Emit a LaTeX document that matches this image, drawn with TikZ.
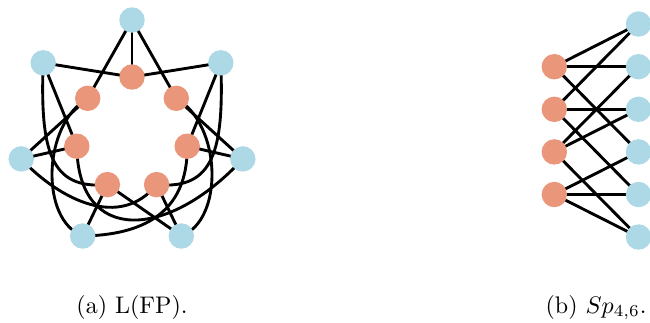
\documentclass[tikz,border=0pt]{standalone}
\usetikzlibrary{backgrounds}
\definecolor{lblue}{RGB}{173,216,230}
\definecolor{lsalmon}{RGB}{233,150,122}
\begin{document}
\begin{tikzpicture}[x=0.4167pt,y=-0.4167pt,
  bnode/.style={circle,fill=lblue,minimum size=10.6pt,inner sep=0pt},
  onode/.style={circle,fill=lsalmon,minimum size=10.6pt,inner sep=0pt},
  edge/.style={line width=1.2pt,black},
  captext/.style={anchor=base,inner sep=0pt}]
\useasboundingbox (0,0) rectangle (650,322);
% ---- (a) left graph
\node[bnode] (B1) at (132,20) {};
\node[bnode] (B2) at (43.2,62.8) {};
\node[bnode] (B3) at (220.8,62.8) {};
\node[bnode] (B4) at (21.2,158.9) {};
\node[bnode] (B5) at (242.8,158.9) {};
\node[bnode] (B6) at (82.7,236) {};
\node[bnode] (B7) at (181.3,236) {};
\node[onode] (O1) at (132,77) {};
\node[onode] (O2) at (87.7,98.3) {};
\node[onode] (O3) at (176.3,98.3) {};
\node[onode] (O4) at (76.8,146.2) {};
\node[onode] (O5) at (187.2,146.2) {};
\node[onode] (O6) at (107.4,184.6) {};
\node[onode] (O7) at (156.6,184.6) {};
% ---- (b) right graph
\node[onode] (R1) at (554.3,66.7) {};
\node[onode] (R2) at (554.3,109.3) {};
\node[onode] (R3) at (554.3,151.9) {};
\node[onode] (R4) at (554.3,194.5) {};
\node[bnode] (S1) at (638.5,24) {};
\node[bnode] (S2) at (638.5,66.7) {};
\node[bnode] (S3) at (638.5,109.3) {};
\node[bnode] (S4) at (638.5,151.9) {};
\node[bnode] (S5) at (638.5,194.5) {};
\node[bnode] (S6) at (638.5,237) {};
\begin{scope}[on background layer]
\draw[edge] (B1.center) -- (O1.center);
\draw[edge] (B1.center) -- (O2.center);
\draw[edge] (B1.center) -- (O3.center);
\draw[edge] (B2.center) -- (O1.center);
\draw[edge] (B3.center) -- (O1.center);
\draw[edge] (B2.center) -- (O4.center);
\draw[edge] (B3.center) -- (O5.center);
\draw[edge] (B4.center) -- (O4.center);
\draw[edge] (B5.center) -- (O5.center);
\draw[edge] (B4.center) -- (O2.center);
\draw[edge] (B5.center) -- (O3.center);
\draw[edge] (B6.center) -- (O6.center);
\draw[edge] (B7.center) -- (O7.center);
\draw[edge] (O6.center) -- (B7.center);
\draw[edge] (B2.center) .. controls (40,150) and (50,190) .. (O6.center);
\draw[edge] (B3.center) .. controls (224,150) and (214,190) .. (O7.center);
\draw[edge] (O2.center) .. controls (42,125) and (40,220) .. (B6.center);
\draw[edge] (O3.center) .. controls (222,125) and (224,220) .. (B7.center);
\draw[edge] (B4.center) .. controls (60,200) and (120,230) .. (O7.center);
\draw[edge] (O4.center) .. controls (78,245) and (168,240) .. (B5.center);
\draw[edge] (O5.center) .. controls (188,215) and (140,235) .. (B6.center);
% right
\draw[edge] (R1.center) -- (S1.center);
\draw[edge] (R1.center) -- (S2.center);
\draw[edge] (R1.center) -- (S4.center);
\draw[edge] (R2.center) -- (S1.center);
\draw[edge] (R2.center) -- (S3.center);
\draw[edge] (R2.center) -- (S5.center);
\draw[edge] (R3.center) -- (S2.center);
\draw[edge] (R3.center) -- (S3.center);
\draw[edge] (R3.center) -- (S6.center);
\draw[edge] (R4.center) -- (S4.center);
\draw[edge] (R4.center) -- (S5.center);
\draw[edge] (R4.center) -- (S6.center);
\end{scope}
\node[captext] (capa) at (132,313) {(a) L(FP).};
\node[captext] (capb) at (596,313) {(b) $Sp_{4,6}$.};
\end{tikzpicture}
\end{document}
